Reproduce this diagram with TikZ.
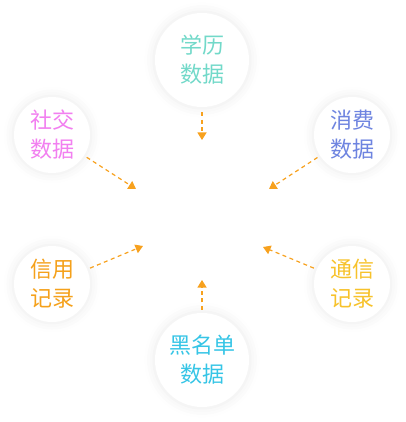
\documentclass[tikz,border=0pt]{standalone}
\usepackage{fontspec}
\newfontfamily\cjk{Noto Sans CJK SC}
\usetikzlibrary{arrows.meta,shadows.blur}
\definecolor{cteal}{HTML}{72D9C9}
\definecolor{cpink}{HTML}{F27FF0}
\definecolor{cblue}{HTML}{6E84E0}
\definecolor{corange}{HTML}{F5A11B}
\definecolor{cyellow}{HTML}{F7C22B}
\definecolor{ccyan}{HTML}{36C5E6}
\definecolor{carrow}{HTML}{F7A11E}
\tikzset{
  bubble/.style={circle, fill=white, inner sep=0pt, align=center,
    blur shadow={shadow xshift=0pt, shadow yshift=0pt, shadow blur radius=9pt, shadow opacity=8, shadow scale=1.03},
    font=\cjk\fontsize{22}{29}\selectfont},
  big/.style={bubble, minimum size=94pt},
  small/.style={bubble, minimum size=76pt},
  flow/.style={draw=carrow, line width=1.2pt, dash pattern=on 4pt off 3.5pt,
    -{Triangle[width=9pt,length=7.5pt]}, shorten <=3pt}
}
\begin{document}
\begin{tikzpicture}[x=1pt,y=-1pt]
\useasboundingbox (0,0) rectangle (405,422);
\node[big, text=cteal] (edu) at (202,60) {学历\\数据};
\node[small, text=cpink] (soc) at (52,135) {社交\\数据};
\node[small, text=cblue] (con) at (352,135) {消费\\数据};
\node[small, text=corange] (cre) at (52,284) {信用\\记录};
\node[small, text=cyellow] (tel) at (352,284) {通信\\记录};
\node[big, text=ccyan] (blk) at (202,360) {黑名单\\数据};
\coordinate (eduE) at (202,140);
\coordinate (socE) at (136,189);
\coordinate (conE) at (269,189);
\coordinate (creE) at (143,246);
\coordinate (telE) at (263,247);
\coordinate (blkE) at (202,280);
\draw[flow, shorten <=5pt] (edu) -- (eduE);
\draw[flow] (soc) -- (socE);
\draw[flow] (con) -- (conE);
\draw[flow] (cre) -- (creE);
\draw[flow] (tel) -- (telE);
\draw[flow] (blk) -- (blkE);
\end{tikzpicture}
\end{document}
